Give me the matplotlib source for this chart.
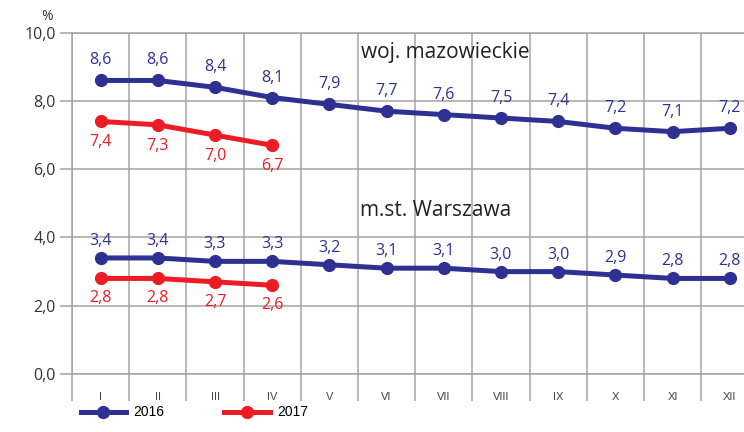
import matplotlib
matplotlib.use("Agg")
import matplotlib.pyplot as plt
from matplotlib.ticker import FixedLocator

months = ["I", "II", "III", "IV", "V", "VI", "VII", "VIII", "IX", "X", "XI", "XII"]
maz_2016 = [8.6, 8.6, 8.4, 8.1, 7.9, 7.7, 7.6, 7.5, 7.4, 7.2, 7.1, 7.2]
maz_2017 = [7.4, 7.3, 7.0, 6.7]
war_2016 = [3.4, 3.4, 3.3, 3.3, 3.2, 3.1, 3.1, 3.0, 3.0, 2.9, 2.8, 2.8]
war_2017 = [2.8, 2.8, 2.7, 2.6]
y_ticks = [0, 2, 4, 6, 8, 10]

blue = "#2e3192"
red = "#ed1c24"
grid_c = "#a3a3a3"
num_font = "Open Sans"

fig = plt.figure(figsize=(7.44, 4.32), dpi=100)
# axes run past the right edge, like in the source
ax = fig.add_axes([72 / 744, 58 / 432, 686.4 / 744, 341.3 / 432])

x = list(range(len(months)))
x17 = x[:len(maz_2017)]

h16 = None
h17 = None
for vals in [maz_2016, war_2016]:
    h16, = ax.plot(x, vals, color=blue, lw=3.6, marker="o", ms=8.5, zorder=3)
for vals in [maz_2017, war_2017]:
    h17, = ax.plot(x17, vals, color=red, lw=3.6, marker="o", ms=8.5, zorder=4)

def fmt(v):
    return f"{v:.1f}".replace(".", ",")

for vals, dy in [(maz_2016, 20), (war_2016, 17)]:
    for xi, v in zip(x, vals):
        ax.annotate(fmt(v), (xi, v), xytext=(0, dy), textcoords="offset pixels",
                    ha="center", va="center", color=blue, fontsize=11.5,
                    family=num_font)
for vals, dy in [(maz_2017, -21), (war_2017, -20)]:
    for xi, v in zip(x17, vals):
        ax.annotate(fmt(v), (xi, v), xytext=(0, dy), textcoords="offset pixels",
                    ha="center", va="center", color=red, fontsize=11.5,
                    family=num_font)

ax.text(6.02, 9.43, "woj. mazowieckie", ha="center", va="center",
        fontsize=15, color="#222222", family=num_font)
ax.text(5.85, 4.78, "m.st. Warszawa", ha="center", va="center",
        fontsize=15, color="#222222", family=num_font)

ax.set_xlim(-0.5, 11.5)
ax.set_ylim(0, 10)

ax.xaxis.set_major_locator(FixedLocator(x))
ax.set_xticklabels(months, fontsize=8, color="#444444", family="Liberation Sans")
ax.xaxis.set_minor_locator(FixedLocator([i - 0.5 for i in range(len(months) + 1)]))
ax.tick_params(axis="x", which="major", length=0, pad=13)
ax.tick_params(axis="x", which="minor", length=19.5, width=1.1, color=grid_c)

ax.set_yticks(y_ticks)
ax.set_yticklabels([fmt(v) for v in y_ticks], fontsize=11.5, color="#333333",
                   family=num_font)
ax.tick_params(axis="y", length=8.6, width=1.1, color=grid_c, pad=3)

ax.grid(axis="y", which="major", color=grid_c, lw=1.1)
ax.grid(axis="x", which="minor", color=grid_c, lw=1.1)
ax.set_axisbelow(True)
for s in ax.spines.values():
    s.set_color(grid_c)
    s.set_linewidth(1.1)

fig.text(47 / 744, 1 - 17 / 432, "%", ha="center", va="center",
         fontsize=10, color="#333333", family=num_font)

fig.legend([h16, h17], ["2016", "2017"], loc="lower left",
           bbox_to_anchor=(68 / 744, 0.0), ncol=2, frameon=False,
           handlelength=3.3, columnspacing=4.3,
           prop={"family": "Liberation Sans", "size": 10}, handletextpad=0.5)

fig.savefig("out.png", dpi=100)
